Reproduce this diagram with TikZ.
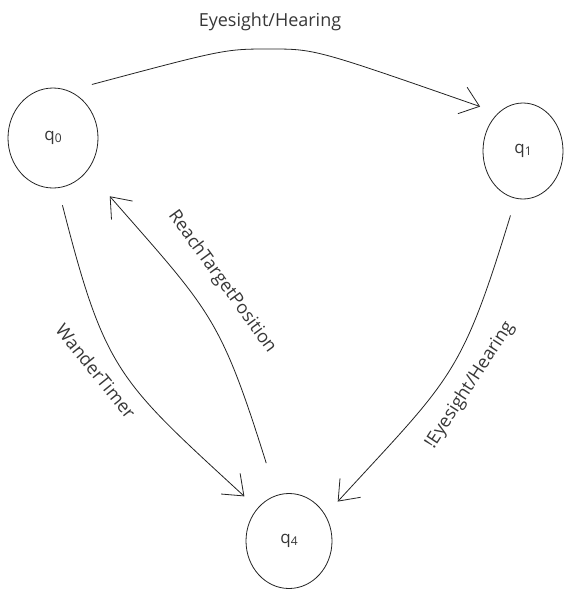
\documentclass[tikz,border=0pt]{standalone}
\usepackage{fontspec}
\setmainfont{Open Sans}
\definecolor{tracoFSM}{RGB}{35,35,35}
\definecolor{textoFSM}{RGB}{55,55,55}
\usetikzlibrary{shapes.geometric,arrows.meta}
\tikzset{
  estado/.style={ellipse, draw=tracoFSM, line width=0.8pt, inner sep=0pt,
                 outer sep=18pt, text=textoFSM, font=\fontsize{17}{17}\selectfont},
  rotulo/.style={text=textoFSM, inner sep=0pt, font=\fontsize{18}{18}\selectfont},
  seta/.style={-{Straight Barb[length=18pt, width=28pt]}, line width=0.8pt, tracoFSM},
}
\newcommand{\qsub}[1]{q\raisebox{-0.2ex}{\fontsize{12}{12}\selectfont #1}}

\begin{document}
\begin{tikzpicture}[x=1pt, y=-1pt]
  \useasboundingbox (0,0) rectangle (565,592);
  % estados
  \node[estado, minimum width=90pt, minimum height=100pt] (q0) at (53,138) {\qsub{0}};
  \node[estado, minimum width=80pt, minimum height=96pt] (q1) at (523,151) {\qsub{1}};
  \node[estado, minimum width=86pt, minimum height=95pt] (q4) at (289,541) {\qsub{4}};
  % transicoes
  \draw[seta] (q0.54) .. controls (225,49) .. (270,49) .. controls (315,49) .. (q1.134);
  \draw[seta] (q0.-82) .. controls (105,372) and (118,380) .. (q4.135);
  \draw[seta, shorten <=16pt, shorten >=16pt] (q4.106) .. controls (220,316) and (211,312) .. (q0.-45);
  \draw[seta] (q1.-101) .. controls (461,377) and (452,377) .. (q4.39);
  % rotulos
  \node[rotulo] (lEH) at (270,22) {Eyesight/Hearing};
  \node[rotulo, rotate=-51] (lWT) at (96,371) {WanderTimer};
  \node[rotulo, rotate=-54] (lRT) at (222,282) {ReachTargetPosition};
  \node[rotulo, rotate=57] (lNEH) at (470,385) {!Eyesight/Hearing};
\end{tikzpicture}
\end{document}
